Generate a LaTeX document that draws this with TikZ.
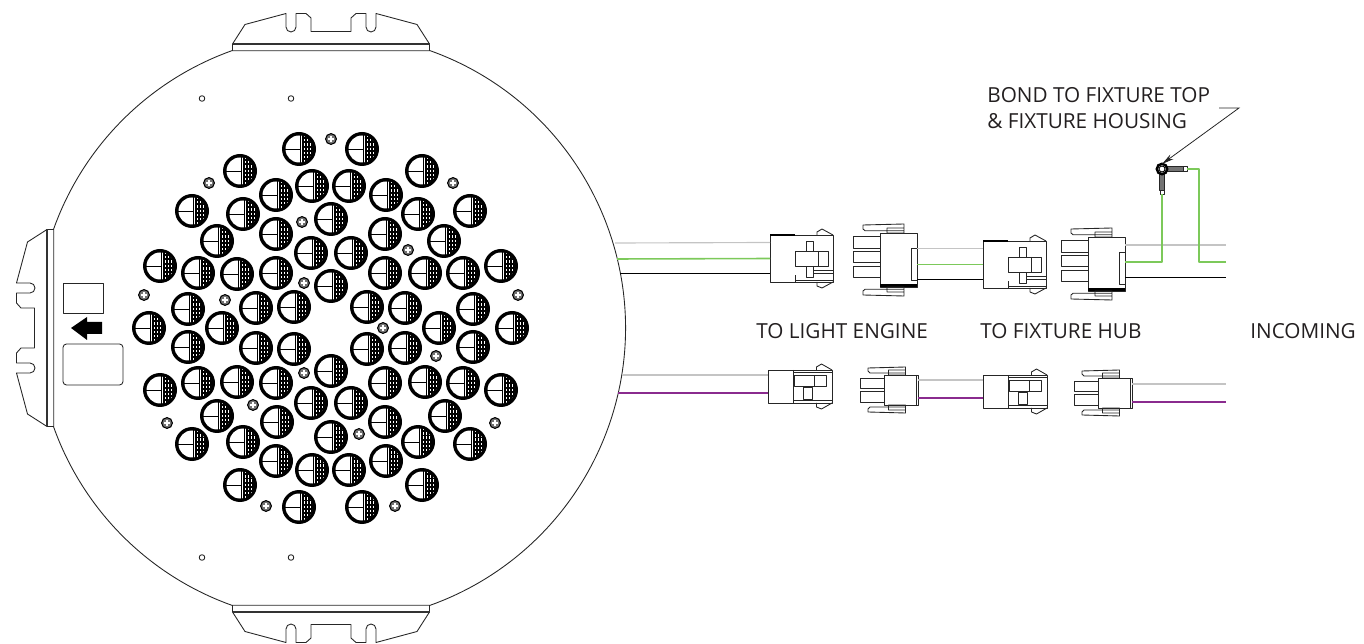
\documentclass[tikz,border=0pt]{standalone}
\usepackage{fontspec}
\setmainfont{Open Sans}
\usetikzlibrary{arrows.meta}

\definecolor{wiregrey}{HTML}{C4C4C4}
\definecolor{wiregreen}{HTML}{7CC95A}
\definecolor{wirepurple}{HTML}{8A2B8E}
\definecolor{inktext}{HTML}{231F20}

\tikzset{
    part/.style = {draw = black!85, line width = 0.5pt, line join = round},
    greywire/.style = {draw = wiregrey, line width = 0.65pt},
    greenwire/.style = {draw = wiregreen, line width = 0.9pt, line join = round},
    purplewire/.style = {draw = wirepurple, line width = 0.75pt},
    blackwire/.style = {draw = black, line width = 0.55pt},
    caption/.style = {font = \fontsize{11.8pt}{14pt}\selectfont, text = inktext, anchor = base west, inner sep = 0pt},
    flange/.pic = {
        \draw[part] (-98.5,-277.3) -- (-98.5,-284) -- (-86,-303.5) -- (-45,-314.5) -- (-45,-301) arc[start angle = 180, end angle = 0, radius = 5] -- (-35,-314.5) -- (-25,-314.5) -- (-20,-310) -- (-20,-296.5) -- (20,-296.5) -- (20,-310) -- (25,-314.5) -- (35,-314.5) -- (35,-301) arc[start angle = 180, end angle = 0, radius = 5] -- (45,-314.5) -- (86,-303.5) -- (98.5,-284) -- (98.5,-277.3) -- cycle;
        \draw[black!80, line width = 1.1pt] (-98.5,-284) -- (98.5,-284);
    },
    lens/.pic = {
        \fill[black] (0,0) circle (17);
        \fill[white] (0,0) circle (13.5);
        \begin{scope}
            \clip (0,0) circle (14);
            \fill[black] (3.4,-15) rectangle (15,15);
            \foreach \dx in {5.6, 8.8, 11.8} {
                \draw[white, line width = 0.6pt, dash pattern = on 1.3pt off 1.1pt] (\dx,-14) -- (\dx,14);
            }
        \end{scope}
        \draw[black, line width = 0.5pt] (-14,0) -- (1,0);
        \draw[black, line width = 0.9pt] (1.3,-14) -- (1.3,14);
    },
    screw/.pic = {
        \draw[black, line width = 0.6pt, fill = black!55] (0,0) circle (5.4);
        \draw[white, line width = 0.7pt] (-3,0) -- (3,0) (0,-3) -- (0,3);
    },
    lugpart/.pic = {
        \fill[black!55] (4,-2.5) rectangle (21,2.5);
        \fill[black!55] (-2.5,4) rectangle (2.5,21);
        \draw[part] (4,-2.5) rectangle (21,2.5) (-2.5,4) rectangle (2.5,21);
        \draw[part, fill = white] (21,-2.5) rectangle (25,2.5);
        \draw[part, fill = white] (-2,21) rectangle (2,25);
        \draw[black, line width = 1.4pt, fill = white] (0,0) circle (5.2);
        \draw[black, line width = 0.5pt] (0,0) circle (3);
        \coordinate (-s) at (0,25);
        \coordinate (-e) at (25,0);
    },
    femalebig/.pic = {
        \draw[part] (0,0) rectangle (63,47);
        \draw[black, line width = 1.3pt] (0,0) -- (25,0);
        \draw[part] (25,47) -- (25,40) (25,45) -- (63,45);
        \draw[part] (25,16) rectangle (58,31) (48,16) -- (48,31);
        \draw[part] (36,6) rectangle (43,16) (36,31) rectangle (43,42);
        \draw[part] (43,35) -- (63,35) (43,38) -- (63,38);
        \draw[part] (47,0) -- (47,-3) -- (52,-6) -- (63,0);
        \draw[part] (47,47) -- (47,51) -- (52,53) -- (63,47);
        \coordinate (-grey) at (0,7.5);
        \coordinate (-green) at (0,23.5);
        \coordinate (-black) at (0,38);
    },
    malebig/.pic = {
        \draw[part] (-27,3) rectangle (0,15) (-27,18) rectangle (0,29) (-27,33) rectangle (0,44);
        \draw[part] (0,0) rectangle (37,54);
        \fill[black] (0,51.5) rectangle (37,54);
        \draw[part] (31,15) rectangle (37,47);
        \draw[part] (-17,-8) -- (24,-9) -- (24,-2.3) -- (-15,-2.3) -- (-17,-4) -- cycle (7,-5) rectangle (24,0);
        \draw[part] (-17,62) -- (24,63) -- (24,56.3) -- (-15,56.3) -- (-17,58) -- cycle (7,59) rectangle (24,54);
        \coordinate (-e) at (37,27);
    },
    femalesmall/.pic = {
        \draw[part] (0,0) rectangle (64,33);
        \draw[part] (25.5,0) -- (25.5,33) (25.5,2) -- (64,2) (25.5,30) -- (64,30);
        \draw[part] (26.5,5) rectangle (58.5,16) (46.5,5) -- (46.5,16);
        \draw[part] (35,17) rectangle (44,29);
        \draw[part] (48.5,0) -- (48.5,-3) -- (53.5,-6) -- (64,0);
        \draw[part] (48.5,33) -- (48.5,37) -- (53.5,39) -- (64,33);
        \coordinate (-grey) at (0,5);
        \coordinate (-purple) at (0,23);
    },
    malesmall/.pic = {
        \draw[part] (-24,3) rectangle (0,13) (-24,16) rectangle (0,27);
        \draw[part] (0,0) rectangle (34,30) (32,0) -- (32,30);
        \draw[part] (-16,-7) -- (21.5,-8) -- (21.5,-2) -- (-14,-2) -- (-16,-4) -- cycle (4.5,-5) rectangle (21.5,0);
        \draw[part] (-16,37) -- (21.5,38) -- (21.5,32) -- (-14,32) -- (-16,34) -- cycle (4.5,35) rectangle (21.5,30);
        \coordinate (-e) at (34,15);
    }
}

\begin{document}
\begin{tikzpicture}[x = 0.02cm, y = -0.02cm]

    \useasboundingbox (0,0) rectangle (1364,644);

    \coordinate (platec) at (331,328);

    \draw[part] (platec) ++(-70.4:294.5) arc[start angle = -70.4, end angle = 70.4, radius = 294.5];
    \draw[part] (platec) ++(109.6:294.5) arc[start angle = 109.6, end angle = 160.4, radius = 294.5];
    \draw[part] (platec) ++(199.6:294.5) arc[start angle = 199.6, end angle = 250.4, radius = 294.5];

    \pic (tabtop) at (platec) {flange};
    \pic[rotate = 90] (tableft) at (platec) {flange};
    \pic[rotate = 180] (tabbottom) at (platec) {flange};

    \foreach \hx/\hy in {202/98.5, 291/98.5, 202/557.5, 291/557.5} {
        \draw[part] (\hx,\hy) circle (2.8);
    }

    \draw[part] (63,283) rectangle (103,313);
    \draw[part, rounded corners = 2pt] (63,344) rectangle (123,385);
    \fill[black] (71,328) -- (87,317) -- (87,322) -- (102,322) -- (102,334) -- (87,334) -- (87,340) -- cycle;

    \foreach \lx/\ly in {299/149, 362/149, 240/171, 422/171, 276/195, 312/186, 349/186, 386/195,
        192/211, 243/214, 418/214, 470/211, 217/241, 276/234, 331/219, 385/234, 444/241,
        311/253, 351/253, 160/266, 198/273, 237/274, 276/273, 385/273, 425/273, 463/273, 501/266,
        331/286, 188/309, 256/308, 294/307, 367/307, 405/308, 473/309,
        149/328, 222/328, 439/328, 512/328,
        188/347, 256/348, 294/349, 367/349, 405/348, 473/347, 331/371,
        160/390, 198/383, 237/382, 276/383, 385/383, 425/382, 463/383, 501/390,
        311/403, 351/403, 217/416, 277/422, 331/437, 385/422, 445/416,
        192/444, 243/442, 418/442, 470/444, 276/461, 312/470, 349/470, 386/461,
        240/485, 422/485, 299/507, 362/507} {
        \pic at (\lx,\ly) {lens};
    }

    \foreach \sx/\sy in {331/139, 209/183, 453/183, 302/222, 408/250, 144/295, 518/295, 225/300, 304/283,
        383/328, 304/373, 436/356, 253/405, 167/423, 495/423, 359/434, 266/506, 395/506} {
        \pic at (\sx,\sy) {screw};
    }

    \coordinate (plategrey) at (615,243);
    \coordinate (plategreen) at (617,259);
    \coordinate (plateblack) at (620,273);
    \coordinate (lowgrey) at (622,375);
    \coordinate (lowpurple) at (618,393);

    \pic (engine) at (770,235) {femalebig};
    \pic (enginepins) at (880,233) {malebig};
    \pic (hub) at (983,241) {femalebig};
    \pic (hubpins) at (1088,237) {malebig};

    \pic (lowengine) at (768,370) {femalesmall};
    \pic (lowenginepins) at (884,375) {malesmall};
    \pic (lowhub) at (983,375) {femalesmall};
    \pic (lowhubpins) at (1098,378) {malesmall};

    \pic (lug) at (1162,169) {lugpart};

    \coordinate (ingrey) at (1226,245);
    \coordinate (ingreen) at (1226,262);
    \coordinate (inblack) at (1226,277);
    \coordinate (inlowgrey) at (1226,384);
    \coordinate (inlowpurple) at (1226,402);

    \draw[greywire] (plategrey) -- (engine-grey);
    \draw[greenwire] (plategreen) -- (engine-green);
    \draw[blackwire] (plateblack) -- (engine-black);

    \draw[greywire] (enginepins-e |- hub-grey) -- (hub-grey);
    \draw[greenwire] (enginepins-e |- hub-green) -- (hub-green);
    \draw[blackwire] (enginepins-e |- hub-black) -- (hub-black);

    \draw[greywire] (hubpins-e |- ingrey) -- (ingrey);
    \draw[blackwire] (hubpins-e |- inblack) -- (inblack);
    \draw[greenwire] (hubpins-e |- ingreen) -| (lug-s);
    \draw[greenwire] (ingreen) -| (1199,169) -- (lug-e);

    \draw[greywire] (lowgrey) -- (lowengine-grey);
    \draw[purplewire] (lowpurple) -- (lowengine-purple);
    \draw[greywire] (lowenginepins-e |- lowhub-grey) -- (lowhub-grey);
    \draw[purplewire] (lowenginepins-e |- lowhub-purple) -- (lowhub-purple);
    \draw[greywire] (lowhubpins-e |- inlowgrey) -- (inlowgrey);
    \draw[purplewire] (lowhubpins-e |- inlowpurple) -- (inlowpurple);

    \node[caption] (bondtop) at (987,103) {BOND TO FIXTURE TOP};
    \node[caption] (bondhousing) at (987,129) {\& FIXTURE HOUSING};
    \node[caption] (tolight) at (756,339) {TO LIGHT ENGINE};
    \node[caption] (tohub) at (980,339) {TO FIXTURE HUB};
    \node[caption] (incoming) at (1250,339) {INCOMING};

    \coordinate (leaderknee) at (1239,108);
    \coordinate (leaderend) at (1219,108);
    \coordinate (lugtop) at (1162,164);

    \draw[black!85, line width = 0.45pt, -{Stealth[length = 7pt, width = 3.2pt]}] (leaderend) -- (leaderknee) -- (lugtop);

\end{tikzpicture}
\end{document}
